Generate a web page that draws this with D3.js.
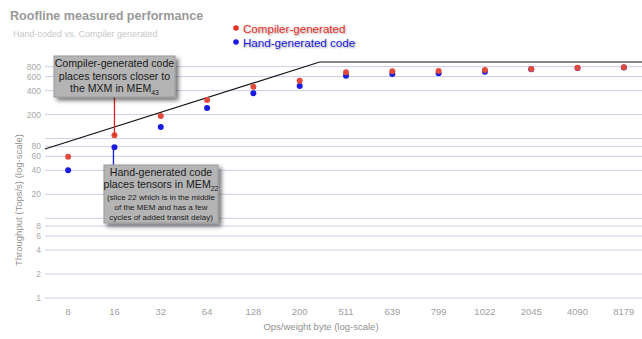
<!DOCTYPE html>
<html>
<head>
<meta charset="utf-8">
<script src="https://cdn.jsdelivr.net/npm/d3@7"></script>
<style>
  body { margin: 0; background: #fff; }
  svg { font-family: Arial, "Liberation Sans", sans-serif; }
</style>
</head>
<body>
<svg id="svg" width="642" height="339"></svg>
<script>
// カテゴリ (Ops/weight byte)
const categories = ["8", "16", "32", "64", "128", "200", "511", "639", "799", "1022", "2045", "4090", "8179"];
// 測定値 (Tops/s)
const compilerValues = [59, 110, 192, 305, 448, 533, 679, 699, 705, 726, 747, 776, 784];
const handValues = [40, 78, 140, 242, 370, 457, 615, 647, 660, 690, 740, 770, 780];
// ルーフライン (カテゴリ位置, 値)
const roofIndex = [-0.5, 5.43, 12.5];
const roofValues = [74, 915, 915];
// 目盛り
const gridTicks = [1, 2, 4, 6, 8, 10, 20, 40, 60, 80, 100, 200, 400, 600, 800];
const labelTicks = [1, 2, 4, 6, 8, 20, 40, 60, 80, 200, 400, 600, 800];

const svg = d3.select("#svg");
const left = 45, right = 647;

const x = d3.scaleBand().domain(categories).range([left, right]);
const xi = d3.scaleLinear()
  .domain([0, categories.length - 1])
  .range([x(categories[0]) + x.bandwidth() / 2, x(categories[categories.length - 1]) + x.bandwidth() / 2]);
const y = d3.scaleLog().domain([1, 1000]).range([298, 298 - 79.7 * 3]);

//タイトル
svg.append("text").attr("x", 10).attr("y", 20)
  .attr("font-size", 12.6).attr("font-weight", "bold").attr("fill", "#9a9a9a")
  .text("Roofline measured performance");
svg.append("text").attr("x", 13).attr("y", 37)
  .attr("font-size", 9).attr("fill", "#c8c8c8")
  .text("Hand-coded vs. Compiler generated");

//凡例
const legend = [
  { label: "Compiler-generated", color: "#e8302a" },
  { label: "Hand-generated code", color: "#1a1ae0" },
];
legend.forEach((d, i) => {
  const ly = 28 + i * 14;
  svg.append("circle").attr("cx", 236).attr("cy", ly).attr("r", 2.8).attr("fill", d.color);
  svg.append("text").attr("x", 243).attr("y", ly + 4.5)
    .attr("font-size", 11.6).attr("fill", d.color)
    .style("text-shadow", "1px 1px 2px rgba(0,0,0,0.35)")
    .text(d.label);
});

//グリッド
svg.append("g")
  .selectAll("line")
  .data(gridTicks)
  .join("line")
  .attr("x1", left).attr("x2", 642)
  .attr("y1", (d) => y(d)).attr("y2", (d) => y(d))
  .attr("stroke", "#cdcdea").attr("stroke-width", 1);

//Y軸ラベル
svg.append("g")
  .selectAll("text")
  .data(labelTicks)
  .join("text")
  .attr("x", 41).attr("y", (d) => y(d) + 3)
  .attr("text-anchor", "end").attr("font-size", 8.5).attr("fill", "#a8a8a8")
  .text((d) => d);

//X軸ラベル
svg.append("g")
  .selectAll("text")
  .data(categories)
  .join("text")
  .attr("x", (d) => x(d) + x.bandwidth() / 2).attr("y", 315)
  .attr("text-anchor", "middle").attr("font-size", 9.5).attr("fill", "#a0a0a0")
  .text((d) => d);

//軸タイトル
svg.append("text")
  .attr("transform", "translate(22,200) rotate(-90)")
  .attr("text-anchor", "middle").attr("font-size", 9.5).attr("fill", "#909090")
  .text("Throughput (Tops/s) (log-scale)");
svg.append("text").attr("x", 321).attr("y", 330)
  .attr("text-anchor", "middle").attr("font-size", 9.5).attr("fill", "#909090")
  .text("Ops/weight byte (log-scale)");

//ルーフライン
const roof = d3.line().x((d) => xi(d[0])).y((d) => y(d[1]));
svg.append("path")
  .attr("d", roof(roofIndex.map((d, i) => [d, roofValues[i]])))
  .attr("fill", "none").attr("stroke", "#111").attr("stroke-width", 1.2);

//点
svg.append("g").selectAll("circle")
  .data(handValues)
  .join("circle")
  .attr("cx", (d, i) => x(categories[i]) + x.bandwidth() / 2)
  .attr("cy", (d) => y(d)).attr("r", 3).attr("fill", "#1a1ae0");
svg.append("g").selectAll("circle")
  .data(compilerValues)
  .join("circle")
  .attr("cx", (d, i) => x(categories[i]) + x.bandwidth() / 2)
  .attr("cy", (d) => y(d)).attr("r", 3).attr("fill", "#e24a3c");

//影のフィルタ
const defs = svg.append("defs");
const f = defs.append("filter").attr("id", "shadow").attr("x", "-20%").attr("y", "-20%").attr("width", "150%").attr("height", "150%");
f.append("feDropShadow").attr("dx", 3).attr("dy", 3).attr("stdDeviation", 2).attr("flood-color", "#000").attr("flood-opacity", 0.55);

//注釈
const cx16 = x("16") + x.bandwidth() / 2;
svg.append("line").attr("x1", cx16).attr("x2", cx16)
  .attr("y1", 97).attr("y2", y(compilerValues[1]))
  .attr("stroke", "#e02020").attr("stroke-width", 1.3);
svg.append("line").attr("x1", cx16 - 1).attr("x2", cx16 - 1)
  .attr("y1", y(handValues[1])).attr("y2", 165)
  .attr("stroke", "#1a1ae0").attr("stroke-width", 1.3);

function callout(bx, by, bw, bh, lines) {
  const g = svg.append("g");
  g.append("rect").attr("x", bx).attr("y", by).attr("width", bw).attr("height", bh)
    .attr("fill", "#b4b4b4").attr("stroke", "#9a9a9a").attr("filter", "url(#shadow)");
  lines.forEach((l) => {
    const t = g.append("text").attr("x", bx + bw / 2).attr("y", l.y)
      .attr("text-anchor", "middle").attr("font-size", l.size).attr("fill", "#1a1a1a");
    t.append("tspan").text(l.text);
    if (l.sub) {
      t.append("tspan").attr("font-size", l.size * 0.65).attr("dy", 3).text(l.sub);
    }
  });
}

callout(54, 56, 121, 41, [
  { text: "Compiler-generated code", y: 67, size: 10.6 },
  { text: "places tensors closer to", y: 80, size: 10.6 },
  { text: "the MXM in MEM", sub: "43", y: 92, size: 10.6 },
]);
callout(104, 165, 114, 58, [
  { text: "Hand-generated code", y: 176, size: 10.6 },
  { text: "places tensors in MEM", sub: "22", y: 188, size: 10.6 },
  { text: "(slice 22 which is in the middle", y: 200, size: 8 },
  { text: "of the MEM and has a few", y: 210, size: 8 },
  { text: "cycles of added transit delay)", y: 220, size: 8 },
]);
</script>
</body>
</html>
